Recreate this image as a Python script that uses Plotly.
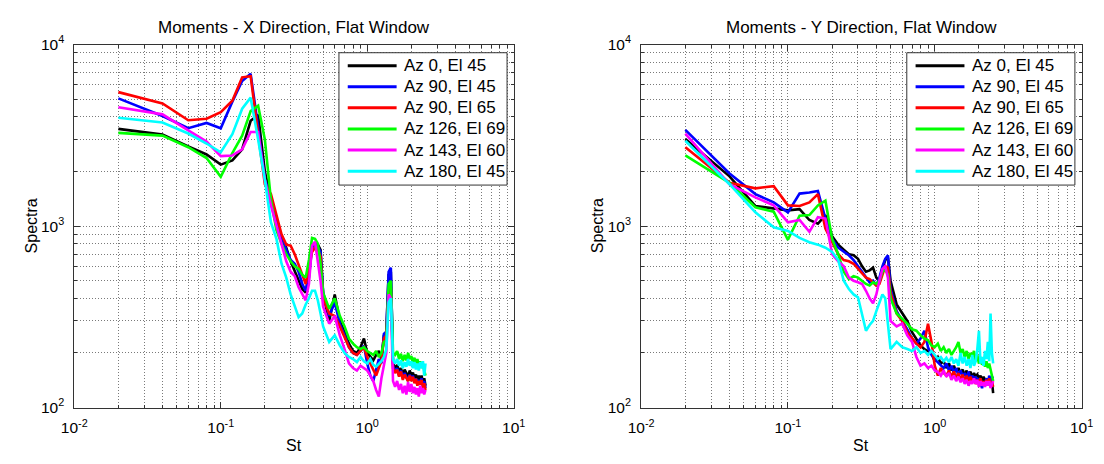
import plotly.graph_objects as go

# Strouhal number bins shared by all spectra
ST = [0.02, 0.04, 0.06, 0.08, 0.10, 0.12, 0.14, 0.16, 0.18, 0.20,
      0.22, 0.24, 0.26, 0.28, 0.30, 0.32, 0.34, 0.36, 0.38, 0.40,
      0.42, 0.44, 0.46, 0.48, 0.50,
      0.55, 0.60, 0.65, 0.70, 0.75, 0.80, 0.85, 0.90, 0.95, 1.00,
      1.05, 1.10, 1.15, 1.20, 1.25, 1.30, 1.35, 1.40, 1.45, 1.50,
      1.55, 1.60, 1.65, 1.70, 1.75, 1.80, 1.85, 1.90, 1.95, 2.00,
      2.05, 2.10, 2.15, 2.20, 2.25, 2.30, 2.35, 2.40, 2.45, 2.50]

LABELS = ["Az 0, El 45", "Az 90, El 45", "Az 90, El 65",
          "Az 126, El 69", "Az 143, El 60", "Az 180, El 45"]
COLORS = ["#000000", "#0000ff", "#ff0000", "#00ff00", "#ff00ff", "#00ffff"]

# ---- Moments, X direction ----
x_az0_el45 = [3430, 3190, 2750, 2480, 2180, 2300, 2650, 3800, 4100, 2000,
              1400, 1000, 860, 760, 640, 560, 500, 450, 430, 560,
              790, 800, 790, 740, 420,
              300, 420, 300, 260, 225, 205, 200, 215, 240, 200,
              190, 182, 195, 205, 185, 250, 262, 540, 560, 175,
              165, 172, 158, 165, 150, 162, 155, 148, 160, 150,
              156, 146, 152, 140, 150, 142, 150, 138, 145, 132]
x_az90_el45 = [5050, 4040, 3460, 3700, 3460, 4850, 6300, 6900, 3500, 1800,
               1450, 1050, 880, 740, 650, 620, 560, 480, 440, 520,
               760, 790, 770, 720, 430,
               320, 380, 290, 250, 215, 200, 195, 205, 220, 175,
               150, 140, 160, 185, 175, 255, 262, 560, 590, 170,
               158, 165, 150, 160, 145, 155, 148, 140, 152, 142,
               150, 138, 145, 135, 142, 135, 145, 130, 140, 128]
x_az90_el65 = [5470, 4740, 3830, 3900, 4240, 4900, 6600, 6700, 3200, 1700,
               1500, 1150, 900, 790, 780, 700, 620, 540, 480, 600,
               720, 760, 740, 680, 400,
               330, 320, 280, 245, 215, 200, 195, 205, 215, 190,
               175, 160, 150, 165, 180, 240, 250, 430, 460, 165,
               155, 162, 148, 158, 142, 152, 145, 140, 150, 140,
               148, 136, 144, 132, 140, 134, 142, 128, 136, 125]
x_az126_el69 = [3260, 3150, 2720, 2370, 1870, 2520, 3150, 4300, 4600, 3000,
                1400, 950, 800, 700, 640, 600, 580, 540, 520, 650,
                860, 850, 800, 620, 430,
                350, 400, 320, 280, 240, 225, 215, 210, 215, 205,
                200, 195, 205, 190, 200, 230, 235, 480, 500, 200,
                195, 205, 185, 198, 180, 195, 182, 200, 185, 192,
                178, 188, 175, 185, 170, 180, 165, 175, 160, 150]
x_az143_el60 = [4510, 4125, 3370, 2920, 2430, 2450, 2650, 3300, 3300, 1800,
                1300, 1000, 780, 640, 560, 530, 460, 420, 390, 480,
                780, 820, 650, 500, 360,
                290, 320, 250, 210, 175, 165, 160, 170, 165, 160,
                150, 140, 125, 115, 145, 170, 200, 420, 400, 140,
                130, 140, 125, 135, 120, 132, 118, 138, 122, 135,
                120, 130, 118, 128, 115, 132, 120, 128, 118, 125]
x_az180_el45 = [3950, 3720, 3235, 2850, 2550, 3210, 4430, 5100, 3000, 1800,
                1050, 850, 620, 520, 420, 360, 315, 330, 370, 400,
                440, 440, 390, 330, 280,
                230, 250, 220, 200, 190, 185, 178, 190, 180, 175,
                185, 172, 168, 175, 180, 190, 210, 380, 400, 185,
                175, 185, 170, 182, 165, 178, 168, 185, 170, 180,
                165, 178, 162, 175, 160, 178, 165, 180, 150, 175]

# ---- Moments, Y direction ----
y_az0_el45 = [3020, 1880, 1290, 1250, 1220, 1240, 1080, 1030, 1150, 880,
              790, 740, 700, 690, 660, 600, 560, 570, 590, 520,
              500, 580, 650, 670, 500,
              370, 330, 300, 260, 240, 220, 210, 205, 200, 180,
              190, 175, 180, 165, 175, 160, 170, 158, 165, 155,
              162, 150, 160, 148, 158, 145, 155, 148, 152, 145,
              150, 140, 148, 140, 145, 135, 142, 130, 140, 120]
y_az90_el45 = [3390, 1950, 1500, 1350, 1190, 1510, 1530, 1560, 1100, 850,
               760, 720, 690, 650, 600, 560, 520, 490, 500, 470,
               520, 600, 660, 690, 450,
               340, 300, 270, 240, 225, 240, 265, 215, 195, 185,
               178, 172, 165, 175, 160, 170, 155, 165, 150, 160,
               148, 155, 145, 158, 140, 150, 142, 148, 138, 145,
               135, 128, 140, 132, 145, 135, 150, 140, 148, 145]
y_az90_el65 = [2720, 1730, 1614, 1660, 1300, 1290, 1350, 1500, 970, 820,
               700, 650, 640, 620, 580, 550, 520, 510, 490, 470,
               480, 540, 600, 590, 430,
               330, 300, 260, 240, 225, 215, 230, 290, 230, 170,
               150, 165, 155, 150, 160, 148, 158, 145, 155, 142,
               152, 140, 150, 140, 148, 138, 145, 135, 142, 138,
               145, 135, 140, 132, 142, 135, 145, 130, 140, 130]
y_az126_el69 = [2450, 1730, 1270, 1200, 840, 1140, 1150, 1300, 1380, 850,
                700, 560, 510, 530, 520, 500, 480, 470, 490, 480,
                500, 560, 575, 540, 400,
                330, 310, 290, 270, 265, 250, 240, 235, 220, 215,
                225, 205, 215, 200, 210, 195, 205, 215, 230, 200,
                210, 190, 205, 185, 200, 190, 205, 180, 195, 175,
                190, 172, 185, 168, 180, 165, 175, 160, 150, 140]
y_az143_el60 = [3230, 1700, 1440, 1300, 1050, 1080, 930, 1120, 1100, 700,
                640, 600, 520, 500, 490, 480, 440, 400, 375, 420,
                500, 580, 600, 520, 300,
                280, 290, 250, 230, 190, 170, 175, 165, 170, 160,
                157, 150, 160, 148, 155, 142, 150, 140, 148, 138,
                145, 135, 142, 132, 140, 135, 145, 135, 142, 130,
                140, 132, 138, 130, 140, 132, 140, 128, 135, 140]
y_az180_el45 = [2950, 1700, 1190, 985, 940, 860, 815, 790, 760, 720,
                650, 500, 450, 420, 405, 330, 265, 285, 300, 340,
                380, 420, 400, 300, 210,
                230, 215, 210, 205, 215, 200, 205, 195, 205, 195,
                185, 190, 180, 188, 178, 190, 175, 185, 170, 200,
                175, 190, 170, 185, 165, 195, 170, 180, 210, 265,
                175, 190, 170, 205, 185, 230, 180, 330, 200, 175]

SERIES_X = [x_az0_el45, x_az90_el45, x_az90_el65,
            x_az126_el69, x_az143_el60, x_az180_el45]
SERIES_Y = [y_az0_el45, y_az90_el45, y_az90_el65,
            y_az126_el69, y_az143_el60, y_az180_el45]

MAJOR_X = [0.01, 0.1, 1, 10]
MAJOR_X_TEXT = ["10<sup>-2</sup>", "10<sup>-1</sup>", "10<sup>0</sup>", "10<sup>1</sup>"]
MAJOR_Y = [100, 1000, 10000]
MAJOR_Y_TEXT = ["10<sup>2</sup>", "10<sup>3</sup>", "10<sup>4</sup>"]
MINOR_X = [m * 10 ** e for e in (-2, -1, 0) for m in range(2, 10)]
MINOR_Y = [m * 10 ** e for e in (2, 3) for m in range(2, 10)]

FONT = "Liberation Sans, Arial, Helvetica, sans-serif"
W, H = 1104, 464

fig = go.Figure()

for i in range(6):
    fig.add_trace(go.Scatter(
        x=ST, y=SERIES_X[i], mode="lines", name=LABELS[i], showlegend=False,
        line=dict(color=COLORS[i], width=2.6), xaxis="x", yaxis="y"))
for i in range(6):
    fig.add_trace(go.Scatter(
        x=ST, y=SERIES_Y[i], mode="lines", name=LABELS[i], showlegend=False,
        line=dict(color=COLORS[i], width=2.6), xaxis="x2", yaxis="y2"))

# plot areas in pixels
LEFT = (62.7, 512.3)
RIGHT = (642.7, 1093.3)
TOP, BOTTOM = 35.0, 413.5
ydom = [1 - BOTTOM / H, 1 - TOP / H]

grid = dict(showgrid=True, gridcolor="#7a7a7a", griddash="1px,2px", gridwidth=1)


def xaxis(dom, anchor):
    return dict(
        type="log", range=[-2, 1], domain=[dom[0] / W, dom[1] / W], anchor=anchor,
        tickmode="array", tickvals=MAJOR_X, ticktext=MAJOR_X_TEXT,
        ticks="inside", ticklen=6, tickcolor="#333333",
        showline=True, linecolor="#333333", linewidth=1, mirror="ticks",
        tickfont=dict(family=FONT, size=15.5, color="#000"),
        ticklabelstandoff=6,
        minor=dict(tickvals=MINOR_X, ticks="inside", ticklen=3,
                   tickcolor="#333333", **grid),
        zeroline=False, **grid)


def yaxis(anchor):
    return dict(
        type="log", range=[2, 4], domain=ydom, anchor=anchor,
        tickmode="array", tickvals=MAJOR_Y, ticktext=MAJOR_Y_TEXT,
        ticks="inside", ticklen=6, tickcolor="#333333",
        showline=True, linecolor="#333333", linewidth=1, mirror="ticks",
        tickfont=dict(family=FONT, size=15.5, color="#000"),
        ticklabelstandoff=6,
        minor=dict(tickvals=MINOR_Y, ticks="inside", ticklen=3,
                   tickcolor="#333333", **grid),
        zeroline=False, **grid)


fig.update_layout(
    width=W, height=H,
    margin=dict(l=0, r=0, t=0, b=0),
    paper_bgcolor="white", plot_bgcolor="white",
    xaxis=xaxis(LEFT, "y"), yaxis=yaxis("x"),
    xaxis2=xaxis(RIGHT, "y2"), yaxis2=yaxis("x2"),
    showlegend=False,
    font=dict(family=FONT, color="#000"),
)


def px(x):
    return x / W


def py(y):
    return 1 - y / H


# legend boxes drawn inside the upper-right corner of each panel
LEG_TOP, LEG_BOTTOM, LEG_W = 43.5, 181.5, 172.0
ROW0, ROW_STEP = 57.0, 22.0
for dom in (LEFT, RIGHT):
    right = dom[1] - 6.8
    left = right - LEG_W
    fig.add_shape(type="rect", xref="paper", yref="paper",
                  x0=px(left), x1=px(right), y0=py(LEG_BOTTOM), y1=py(LEG_TOP),
                  line=dict(color="#333333", width=1), fillcolor="white", layer="above")
    for i, (lab, col) in enumerate(zip(LABELS, COLORS)):
        yc = ROW0 + ROW_STEP * i
        fig.add_shape(type="line", xref="paper", yref="paper",
                      x0=px(left + 9), x1=px(left + 59), y0=py(yc), y1=py(yc),
                      line=dict(color=col, width=3), layer="above")
        fig.add_annotation(text=lab, x=px(left + 64.5), y=py(yc),
                           xref="paper", yref="paper", xanchor="left", yanchor="middle",
                           showarrow=False,
                           font=dict(family=FONT, size=17, color="#000"))

titles = [("Moments - X Direction, Flat Window", LEFT),
          ("Moments - Y Direction, Flat Window", RIGHT)]
for text, dom in titles:
    cx = (dom[0] + dom[1]) / 2 / W
    fig.add_annotation(text=text, x=cx, y=py(17), xref="paper", yref="paper",
                       xanchor="center", yanchor="middle", showarrow=False,
                       font=dict(family=FONT, size=17, color="#000"))
    fig.add_annotation(text="St", x=cx, y=py(453), xref="paper", yref="paper",
                       xanchor="center", yanchor="middle", showarrow=False,
                       font=dict(family=FONT, size=16, color="#000"))

for xc in (19, 598):
    fig.add_annotation(text="Spectra", x=px(xc), y=py(224), xref="paper", yref="paper",
                       xanchor="center", yanchor="middle", showarrow=False, textangle=-90,
                       font=dict(family=FONT, size=16, color="#000"))

fig.write_html("out.html")
